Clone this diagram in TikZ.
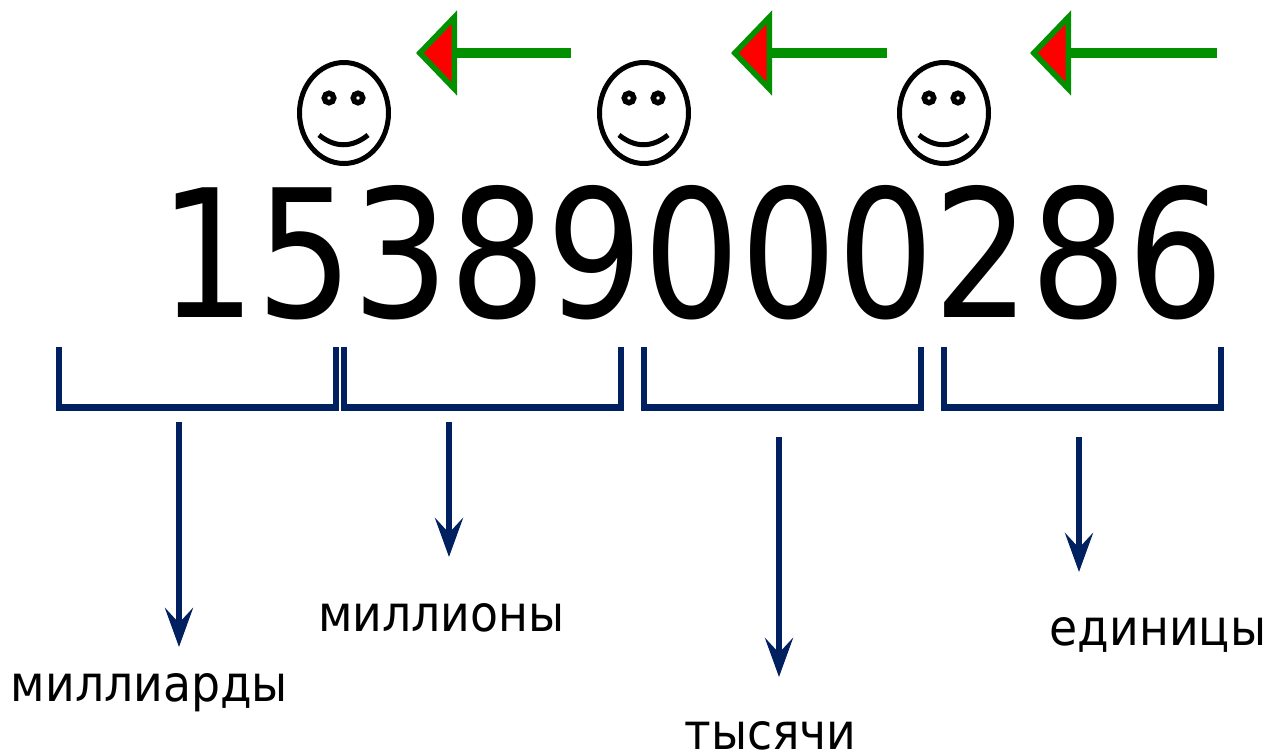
\documentclass[tikz,border=0pt]{standalone}
\usepackage{fontspec}
\setmainfont{DejaVu Sans}[FakeStretch=0.915]
\newfontfamily\digitfont{DejaVu Sans}[FakeStretch=0.8555]
\usetikzlibrary{arrows.meta,shapes.geometric}
\definecolor{bracketblue}{HTML}{002060}
\definecolor{arrowgreen}{HTML}{009000}
\tikzset{
  bigdigits/.style={inner sep=0pt,anchor=base west,font=\digitfont\fontsize{178}{178}\selectfont},
  classname/.style={inner sep=0pt,anchor=base,font=\fontsize{50}{50}\selectfont},
  bracketline/.style={draw=bracketblue,line width=6.5pt,miter limit=10},
  downarrow/.style={draw=bracketblue,line width=6pt,-{Stealth[length=39pt,width=28pt,inset=15pt,fill=bracketblue]}},
  leftarrow/.style={draw=arrowgreen,line width=9.5pt,-{Triangle[length=41pt,width=84pt,line width=5.5pt,color=arrowgreen,fill=red]}},
  faceoval/.style={draw=black,line width=5pt,ellipse,inner sep=0pt,minimum width=89pt,minimum height=101pt},
  faceeye/.style={draw=black,line width=5.5pt,circle,inner sep=0pt,minimum size=9.5pt},
  facesmile/.style={draw=black,line width=5pt}
}
\begin{document}
\begin{tikzpicture}[x=1pt,y=-1pt]
      \useasboundingbox (0,0) rectangle (1270,755);

      \node[bigdigits] (number) at (159,317) {15389000286};

      \coordinate (tail1) at (571,53);
      \coordinate (head1) at (416,53);
      \draw[leftarrow] (tail1) -- (head1);
      \coordinate (tail2) at (887,53);
      \coordinate (head2) at (731,53);
      \draw[leftarrow] (tail2) -- (head2);
      \coordinate (tail3) at (1217,53);
      \coordinate (head3) at (1030,53);
      \draw[leftarrow] (tail3) -- (head3);

      \node[faceoval] (face1) at (344,113) {};
      \node[faceeye] (eyeA1) at (329,98) {};
      \node[faceeye] (eyeB1) at (358,98) {};
      \draw[facesmile] (319,135) .. controls (335,148) and (352,148) .. (368,135);

      \node[faceoval] (face2) at (644,113) {};
      \node[faceeye] (eyeA2) at (629,98) {};
      \node[faceeye] (eyeB2) at (658,98) {};
      \draw[facesmile] (619,135) .. controls (635,148) and (652,148) .. (668,135);

      \node[faceoval] (face3) at (944,113) {};
      \node[faceeye] (eyeA3) at (929,98) {};
      \node[faceeye] (eyeB3) at (958,98) {};
      \draw[facesmile] (919,135) .. controls (935,148) and (952,148) .. (968,135);

      \coordinate (a1) at (59,347);
      \coordinate (b1) at (59,407.5);
      \coordinate (c1) at (336,407.5);
      \coordinate (d1) at (336,347);
      \draw[bracketline] (a1) -- (b1) -- (c1) -- (d1);
      \coordinate (a2) at (344,347);
      \coordinate (b2) at (344,407.5);
      \coordinate (c2) at (621,407.5);
      \coordinate (d2) at (621,347);
      \draw[bracketline] (a2) -- (b2) -- (c2) -- (d2);
      \coordinate (a3) at (644,347);
      \coordinate (b3) at (644,407.5);
      \coordinate (c3) at (921,407.5);
      \coordinate (d3) at (921,347);
      \draw[bracketline] (a3) -- (b3) -- (c3) -- (d3);
      \coordinate (a4) at (944,347);
      \coordinate (b4) at (944,407.5);
      \coordinate (c4) at (1221,407.5);
      \coordinate (d4) at (1221,347);
      \draw[bracketline] (a4) -- (b4) -- (c4) -- (d4);

      \coordinate (top1) at (179,422);
      \coordinate (end1) at (179,647);
      \draw[downarrow] (top1) -- (end1);
      \coordinate (top2) at (449,422);
      \coordinate (end2) at (449,557);
      \draw[downarrow] (top2) -- (end2);
      \coordinate (top3) at (779,437);
      \coordinate (end3) at (779,677);
      \draw[downarrow] (top3) -- (end3);
      \coordinate (top4) at (1079,437);
      \coordinate (end4) at (1079,572);
      \draw[downarrow] (top4) -- (end4);

      \node[classname] (milliard) at (149.5,701) {миллиарды};
      \node[classname] (million) at (441.5,631) {миллионы};
      \node[classname] (thousand) at (770.5,749) {тысячи};
      \node[classname] (unit) at (1158,645) {единицы};
\end{tikzpicture}
\end{document}
